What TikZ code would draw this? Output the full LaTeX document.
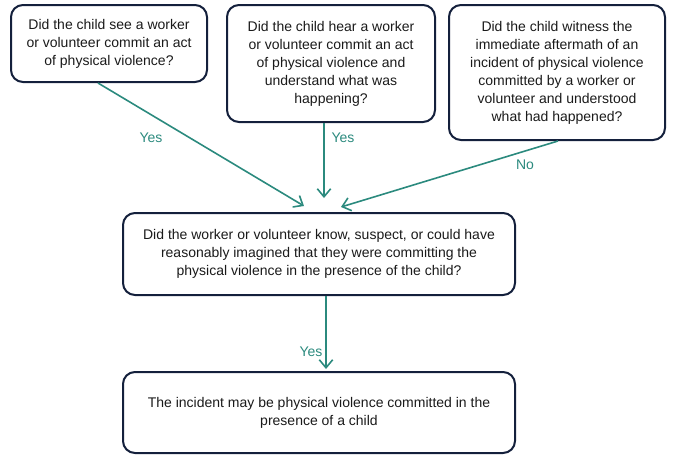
\documentclass[tikz,border=0pt]{standalone}
\usepackage{fontspec}
\setmainfont{Liberation Sans}
\usetikzlibrary{arrows.meta}
\definecolor{navy}{HTML}{14203C}
\definecolor{teal2}{HTML}{2B8A7E}
\definecolor{txt}{HTML}{1A1A1A}
\tikzset{
  qbox/.style={draw=navy, line width=1.5pt, rounded corners=9pt, align=center,
    text=txt, font=\fontsize{10.5}{13.5}\selectfont, inner sep=0pt},
  flow/.style={draw=teal2, line width=1.2pt, -{Straight Barb[length=6pt,width=10pt,line width=1.2pt]}},
  lbl/.style={text=teal2, font=\fontsize{10.5}{13.5}\selectfont, inner sep=0pt}
}
\begin{document}
\begin{tikzpicture}[x=0.75pt,y=-0.75pt]
\useasboundingbox (0,0) rectangle (676,458);
\node[qbox, minimum width=196*0.75pt, minimum height=77*0.75pt] (b1) at (109,43.5)
  {Did the child see a worker\\or volunteer commit an act\\of physical violence?};
\node[qbox, minimum width=208*0.75pt, minimum height=117*0.75pt] (b2) at (331,63.5)
  {Did the child hear a worker\\or volunteer commit an act\\of physical violence and\\understand what was\\happening?};
\node[qbox, minimum width=216*0.75pt, minimum height=135*0.75pt] (b3) at (557,72.5)
  {Did the child witness the\\immediate aftermath of an\\incident of physical violence\\committed by a worker or\\volunteer and understood\\what had happened?};
\node[qbox, minimum width=392*0.75pt, minimum height=82*0.75pt] (b4) at (319,254)
  {Did the worker or volunteer know, suspect, or could have\\reasonably imagined that they were committing the\\physical violence in the presence of the child?};
\node[qbox, minimum width=392*0.75pt, minimum height=81*0.75pt] (b5) at (319,412.5)
  {The incident may be physical violence committed in the\\presence of a child};
\coordinate (e1) at ([xshift=-15*0.75pt, yshift=6*0.75pt]b4.north);
\coordinate (e2) at ([xshift=5*0.75pt, yshift=14*0.75pt]b4.north);
\coordinate (e3) at ([xshift=22*0.75pt, yshift=5*0.75pt]b4.north);
\coordinate (e4) at ([xshift=7*0.75pt, yshift=2*0.75pt]b5.north);
\draw[flow] ([xshift=-11*0.75pt]b1.south) -- (e1);
\draw[flow] ([xshift=-7*0.75pt]b2.south) -- (e2);
\draw[flow] ([xshift=1*0.75pt]b3.south) -- (e3);
\draw[flow] ([xshift=7*0.75pt]b4.south) -- (e4);
\node[lbl] (l1) at (151,138) {Yes};
\node[lbl] (l2) at (343,138) {Yes};
\node[lbl] (l3) at (525,165) {No};
\node[lbl] (l4) at (311,352) {Yes};
\end{tikzpicture}
\end{document}
